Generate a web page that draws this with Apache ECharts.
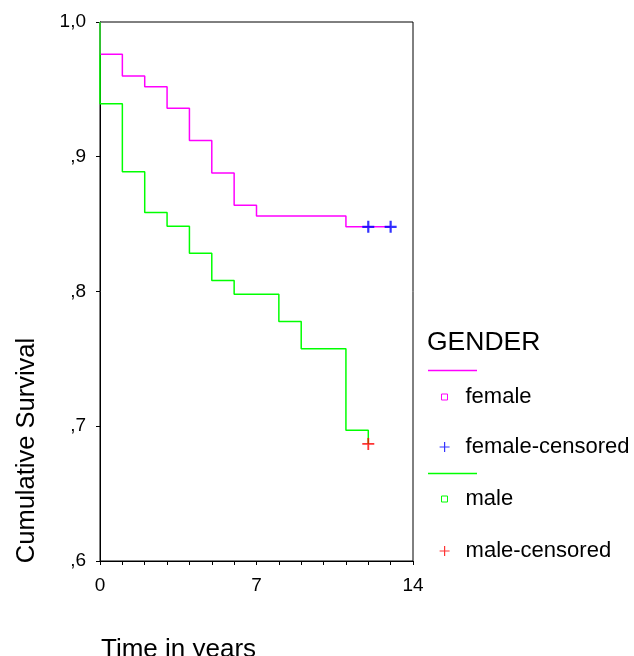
<!DOCTYPE html>
<html>
<head>
<meta charset="utf-8">
<script src="https://cdn.jsdelivr.net/npm/echarts@6/dist/echarts.min.js"></script>
<style>
html,body{margin:0;padding:0;background:#fff;}
#chart{width:634px;height:656px;}
</style>
</head>
<body>
<div id="chart"></div>
<script>
// Kaplan-Meier step data: [time in years, cumulative survival]
const femaleSteps = [[0,1.0],[0,0.976],[1,0.960],[2,0.952],[3,0.936],[4,0.912],[5,0.888],[6,0.864],[7,0.856],[11,0.848],[13,0.848]];
const femaleCensored = [[12,0.848],[13,0.848]];
const maleSteps = [[0,1.0],[0,0.9394],[1,0.8889],[2,0.8586],[3,0.8485],[4,0.8283],[5,0.8081],[6,0.7980],[8,0.7778],[9,0.7576],[11,0.6970],[12,0.6869]];
const maleCensored = [[12,0.6869]];
const xTicks = [0, 7, 14];
const yTickLabels = {'0.6':',6','0.7':',7','0.8':',8','0.9':',9','1':'1,0'};

const FONT = "'Liberation Sans', Arial, sans-serif";
const MAGENTA = '#ff00ff', GREEN = '#00ff00', BLUE = '#0000ff', RED = '#ff0000';
const PLUS = 'path://M5,0V10M0,5H10';
const SQUARE = 'path://M0,0H10V10H0Z';

function legendItem(name, top, icon, color, size, bw) {
  const left = 444 - size / 2;
  const textStart = left + size + 5;
  return {
    data: [{name: name, icon: icon, itemStyle: {color: 'rgba(0,0,0,0)', borderColor: color, borderWidth: bw}}],
    left: left, top: top, orient: 'vertical', padding: 0,
    itemWidth: size, itemHeight: size,
    selectedMode: false,
    textStyle: {fontFamily: FONT, fontSize: 22, color: '#000', padding: [0, 0, 0, 465 - textStart]}
  };
}

const chart = echarts.init(document.getElementById('chart'), null, {renderer: 'canvas'});
chart.setOption({
  animation: false,
  backgroundColor: '#fff',
  grid: {left: 100, right: 221, top: 22, bottom: 95, containLabel: false, outerBoundsMode: 'none',
    show: true, borderColor: '#000', borderWidth: 1, backgroundColor: 'transparent'},
  xAxis: {
    type: 'value', min: 0, max: 14, interval: 7,
    name: 'Time in years', nameLocation: 'middle', nameGap: 76,
    nameTextStyle: {fontFamily: FONT, fontSize: 26, color: '#000', padding: [0, 156, 0, 0]},
    axisLine: {show: true, lineStyle: {color: '#000', width: 1}},
    axisTick: {show: true, length: 4, lineStyle: {color: '#000'}},
    minorTick: {show: true, splitNumber: 7, length: 4, lineStyle: {color: '#000'}},
    splitLine: {show: false},
    axisLabel: {fontFamily: FONT, fontSize: 19, color: '#000', margin: 15,
      formatter: v => xTicks.includes(v) ? String(v) : ''}
  },
  yAxis: {
    type: 'value', min: 0.6, max: 1.0, interval: 0.1,
    name: 'Cumulative Survival', nameLocation: 'middle', nameGap: 60, nameRotate: 90,
    nameTextStyle: {fontFamily: FONT, fontSize: 25.5, color: '#000', padding: [0, 318, 0, 0]},
    axisLine: {show: true, lineStyle: {color: '#000', width: 1}},
    axisTick: {show: true, length: 4, lineStyle: {color: '#000'}},
    splitLine: {show: false},
    axisLabel: {fontFamily: FONT, fontSize: 19, color: '#000', margin: 14,
      formatter: v => yTickLabels[String(Math.round(v*10)/10)] || ''}
  },
  legend: [
    legendItem('female', 386, SQUARE, MAGENTA, 6, 1),
    legendItem('female-censored', 436, PLUS, BLUE, 10, 1.2),
    legendItem('male', 488, SQUARE, GREEN, 6, 1),
    legendItem('male-censored', 540, PLUS, RED, 10, 1.2)
  ],
  graphic: [
    {type: 'text', left: 427, top: 329, style: {text: 'GENDER', fontFamily: FONT, fontSize: 26.5, fill: '#000'}},
    {type: 'line', shape: {x1: 428, y1: 370.5, x2: 477, y2: 370.5}, style: {stroke: MAGENTA, lineWidth: 1.5}},
    {type: 'line', shape: {x1: 428, y1: 473.5, x2: 477, y2: 473.5}, style: {stroke: GREEN, lineWidth: 1.5}}
  ],
  series: [
    {name: 'female', type: 'line', step: 'end', data: femaleSteps, showSymbol: false, symbol: 'none',
      lineStyle: {color: MAGENTA, width: 1.5}, itemStyle: {color: MAGENTA}, z: 3},
    {name: 'male', type: 'line', step: 'end', data: maleSteps, showSymbol: false, symbol: 'none',
      lineStyle: {color: GREEN, width: 1.5}, itemStyle: {color: GREEN}, z: 3},
    {name: 'female-censored', type: 'scatter', data: femaleCensored, symbol: PLUS, symbolSize: 12,
      itemStyle: {color: 'rgba(0,0,0,0)', borderColor: BLUE, borderWidth: 2.2}, z: 4},
    {name: 'male-censored', type: 'scatter', data: maleCensored, symbol: PLUS, symbolSize: 12,
      itemStyle: {color: 'rgba(0,0,0,0)', borderColor: RED, borderWidth: 1.8}, z: 4}
  ]
});
</script>
</body>
</html>
